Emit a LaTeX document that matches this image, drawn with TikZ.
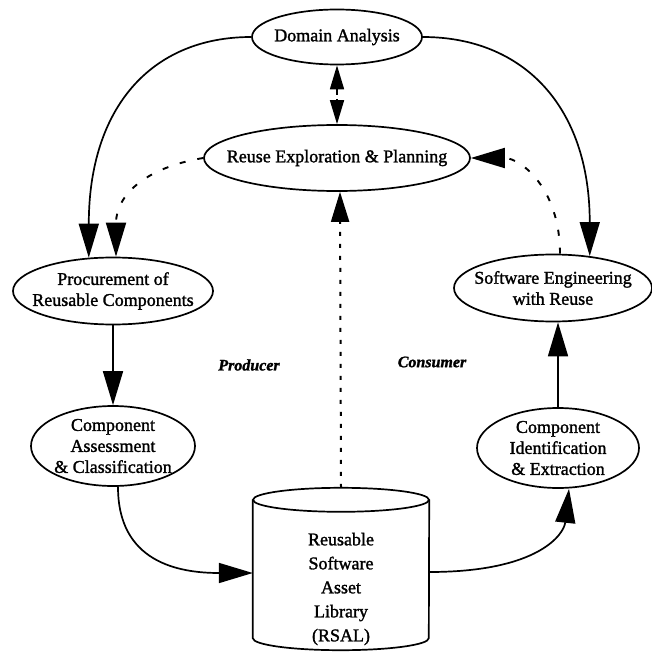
\documentclass[tikz,border=0pt]{standalone}
\usepackage{fontspec}
\setmainfont[FakeBold=1.5]{Liberation Serif}
\usetikzlibrary{arrows.meta,calc,shapes.geometric}
\begin{document}
\begin{tikzpicture}[x=1pt,y=-1pt,
  oval/.style={draw, ellipse, line width=1.7pt, inner sep=0pt},
  txt/.style={align=center, inner sep=0pt, font=\fontsize{18}{21}\selectfont},
  role/.style={inner sep=0pt, font=\fontsize{16}{19}\selectfont\bfseries\itshape},
  bigtip/.style={-{Triangle[length=34pt,width=20pt]}},
  flow/.style={line width=1.7pt, bigtip},
  hint/.style={line width=1.9pt, dash pattern=on 6pt off 12pt, bigtip},
  dotline/.style={line width=2pt, dash pattern=on 4pt off 8pt, -{Triangle[length=30pt,width=18pt]}},
  twoway/.style={line width=1.7pt, dash pattern=on 6pt off 4pt,
    {Triangle[length=24pt,width=14pt]}-{Triangle[length=24pt,width=14pt]}}]

\useasboundingbox (0,0) rectangle (652,652);

% process stages
\node[oval, minimum width=170pt, minimum height=55pt] (da) at (337,37) {};
\node[txt] (da-t) at (da) {Domain Analysis};

\node[oval, minimum width=266pt, minimum height=66pt] (rep) at (337,158) {};
\node[txt] (rep-t) at (rep) {Reuse Exploration \& Planning};

\node[oval, minimum width=200pt, minimum height=67pt] (proc) at (113,291) {};
\node[txt] (proc-t) at (proc) {Procurement of\\Reusable Components};

\node[oval, minimum width=198pt, minimum height=67pt] (swe) at (553,288) {};
\node[txt] (swe-t) at (swe) {Software Engineering\\with Reuse};

\node[oval, minimum width=164pt, minimum height=80pt] (cac) at (113,446) {};
\node[txt] (cac-t) at (cac) {Component\\Assessment\\\& Classification};

\node[oval, minimum width=162pt, minimum height=80pt] (cie) at (558,448) {};
\node[txt] (cie-t) at (cie) {Component\\Identification\\\& Extraction};

% asset library drawn as a cylinder
\node[minimum width=176pt, minimum height=138pt, inner sep=0pt] (lib) at (341,569) {};
\draw[line width=1.7pt] (lib.north west) -- (lib.south west)
  arc[start angle=180, end angle=360, x radius=88pt, y radius=12pt] -- (lib.north east);
\draw[line width=1.7pt] (lib.north) ellipse [x radius=88pt, y radius=12pt];
\node[txt, font=\fontsize{18}{24}\selectfont] (lib-t) at (341,589)
  {Reusable\\Software\\Asset\\Library\\(RSAL)};

% side labels
\node[role] (prod) at (249,365) {Producer};
\node[role] (cons) at (432,362) {Consumer};

% connectors
\draw[flow] (da.west) .. controls +(-100,0) and +(0,-150) .. (proc.126);
\draw[flow] (da.east) .. controls +(100,0) and +(0,-150) .. (swe.41);
\draw[twoway] (da.south) -- (rep.north);
\draw[hint] (rep.west) .. controls +(-60,10) and +(0,-60) .. ([xshift=3pt]proc.north);
\draw[hint] ([xshift=7pt]swe.north) .. controls +(0,-65) and +(50,0) .. (rep.east);
\draw[flow] (proc.south) -- (proc.south |- cac.north);
\draw[flow] (cie.north) -- (cie.north |- swe.south);
\draw[flow] ([xshift=5pt]cac.south) .. controls +(0,75) and +(-75,0) .. ([yshift=-4pt]lib.west);
\draw[flow] ([yshift=-3pt]lib.east) .. controls +(110,0) and +(-5,45) .. ([xshift=11pt]cie.south);
\draw[dotline] ([yshift=12pt]lib.north) -- ([xshift=3pt]rep.south);

\end{tikzpicture}
\end{document}
